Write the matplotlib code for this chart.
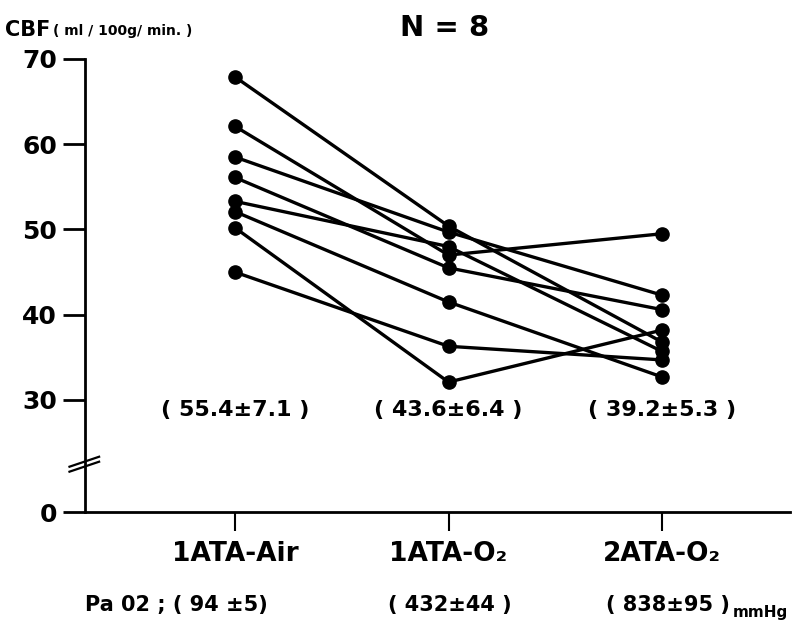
import numpy as np
import matplotlib.pyplot as plt

plt.rcParams['font.family'] = ['DejaVu Sans']
plt.rcParams['font.weight'] = 'bold'

# conditions (x axis)
conditions = ["1ATA-Air", "1ATA-O\u2082", "2ATA-O\u2082"]
# CBF for each of the 8 subjects (ml/100g/min)
air = [67.9, 62.1, 58.5, 56.1, 53.3, 52.1, 50.2, 45.0]
o2_1ata = [50.4, 47.0, 49.7, 45.5, 48.0, 41.5, 32.1, 36.3]
o2_2ata = [36.8, 49.5, 42.3, 40.6, 35.7, 32.7, 38.2, 34.7]
# mean +- SD labels
cbf_means = ["( 55.4\u00b17.1 )", "( 43.6\u00b16.4 )", "( 39.2\u00b15.3 )"]
pao2 = ["Pa 02 ; ( 94 \u00b15)", "( 432\u00b144 )", "( 838\u00b195 )"]
yticks = [0, 30, 40, 50, 60, 70]

# broken axis: 0..30 is squeezed
k = 0.438


def fwd(v):
    v = np.asarray(v, dtype=float)
    return np.where(v >= 30, v, 30 - (30 - v) * k)


def inv(u):
    u = np.asarray(u, dtype=float)
    return np.where(u >= 30, u, 30 - (30 - u) / k)


fig = plt.figure(figsize=(7.92, 6.22), dpi=100)
ax = fig.add_axes([85 / 792, 1 - 512 / 622, 705 / 792, 453 / 622])
ax.set_yscale('function', functions=(fwd, inv))

x = np.arange(len(conditions))
for i in range(len(air)):
    ax.plot(x, [air[i], o2_1ata[i], o2_2ata[i]], color='black', lw=2.4,
            marker='o', ms=9.5, solid_capstyle='round', clip_on=False)

ax.set_ylim(0, 70)
ax.set_xlim(-150 / 213.5, 555 / 213.5)
ax.set_yticks(yticks)
ax.set_yticklabels([str(t) for t in yticks], fontsize=18, fontweight='bold')
ax.set_xticks(x)
ax.set_xticklabels(conditions, fontsize=19, fontweight='bold')
ax.tick_params(axis='y', length=16, width=2, pad=4)
ax.tick_params(axis='x', length=14, width=1.5, pad=7)
for s in ['top', 'right']:
    ax.spines[s].set_visible(False)
ax.spines['left'].set_linewidth(2)
ax.spines['bottom'].set_linewidth(2)

# break marks on the y axis
for dy in [0, -0.011]:
    ax.plot([-0.022, 0.02], [0.1 + dy, 0.122 + dy], transform=ax.transAxes,
            color='black', lw=1.6, clip_on=False)

for xi, t in zip(x, cbf_means):
    ax.text(xi, 30, t, ha='center', va='top', fontsize=16, fontweight='bold')

fig.text(5 / 792, 1 - 30 / 622, "CBF", fontsize=15, fontweight='bold', va='center')
fig.text(53 / 792, 1 - 31 / 622, "( ml / 100g/ min. )", fontsize=10,
         fontweight='bold', va='center')
fig.text(445 / 792, 1 - 28 / 622, "N = 8", fontsize=21, fontweight='bold',
         ha='center', va='center')

fig.text(85 / 792, 1 - 605 / 622, pao2[0], fontsize=15, fontweight='bold', va='center')
fig.text(450 / 792, 1 - 605 / 622, pao2[1], fontsize=15, fontweight='bold',
         ha='center', va='center')
fig.text(668 / 792, 1 - 605 / 622, pao2[2], fontsize=15, fontweight='bold',
         ha='center', va='center')
fig.text(733 / 792, 1 - 612 / 622, "mmHg", fontsize=11, fontweight='bold', va='center')

fig.savefig("out.png", dpi=100)
